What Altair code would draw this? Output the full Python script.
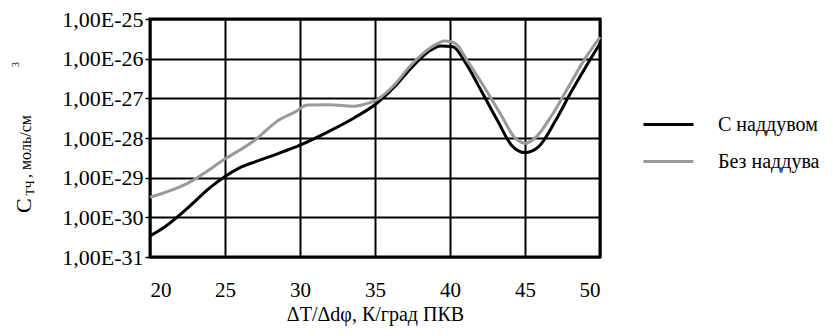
import altair as alt
import pandas as pd

# Series "С наддувом" (black)
x_boost = [20, 21, 22.5, 24, 25, 26, 27, 28.5, 30, 31.9, 33.6, 35.1, 36.3, 37.4, 38.55,
           39.4, 40.2, 41, 42.1, 43.2, 44.1, 45, 45.9, 47, 48.1, 49, 50]
y_boost = [3.4e-31, 5.8e-31, 1.7e-30, 5.6e-30, 1.07e-29, 1.8e-29, 2.5e-29, 4.0e-29, 6.6e-29,
           1.45e-28, 3.2e-28, 7.4e-28, 1.95e-27, 5.75e-27, 1.5e-26,
           2.1e-26, 2.0e-26, 8.3e-27, 1.5e-27, 2.6e-28, 6.6e-29, 4.3e-29, 6.0e-29, 2.6e-28,
           1.5e-27, 5.75e-27, 2.4e-26]

# Series "Без наддува" (grey)
x_noboost = [20, 22.5, 25, 27, 28.5, 29.7, 30.5, 32, 33.5, 34.3, 35.1, 36.3, 37.4, 38.8,
             39.67, 40.33, 41.2, 42.33, 43.4, 44.33, 45, 45.67, 46.8, 47.9, 49, 50]
y_noboost = [3.2e-30, 7.2e-30, 2.95e-29, 8.9e-29, 2.7e-28, 4.6e-28, 6.8e-28, 6.9e-28, 6.3e-28,
             7.1e-28, 9.1e-28, 2.2e-27, 6.9e-27, 2.0e-26,
             2.8e-26, 2.45e-26, 8.3e-27, 1.8e-27, 3.8e-28, 1.02e-28, 7.4e-29, 1.0e-28, 3.8e-28,
             1.95e-27, 1.0e-26, 3.5e-26]

series_names = ["С наддувом", "Без наддува"]
series_colors = ["#000000", "#9a9a9a"]

x_ticks = [20, 25, 30, 35, 40, 45, 50]
y_ticks = [1e-31, 1e-30, 1e-29, 1e-28, 1e-27, 1e-26, 1e-25]

x_title = "ΔT/Δdφ, К/град ПКВ"

df = pd.concat([
    pd.DataFrame({"x": x_boost, "v": y_boost, "s": series_names[0]}),
    pd.DataFrame({"x": x_noboost, "v": y_noboost, "s": series_names[1]}),
])

FONT = "Liberation Serif, Times New Roman, serif"

lines = alt.Chart(df).mark_line(strokeWidth=3, interpolate="monotone").encode(
    x=alt.X("x:Q", scale=alt.Scale(domain=[20, 50], nice=False),
            axis=alt.Axis(values=x_ticks, title=x_title, ticks=False, tickSize=0, domain=False,
                          labelPadding=22, titlePadding=4, labelFontSize=21)),
    y=alt.Y("v:Q", scale=alt.Scale(type="log", domain=[1e-31, 1e-25], nice=False),
            axis=alt.Axis(values=y_ticks, title=None, domain=False, tickSize=5,
                          tickColor="black", tickWidth=1.5, labelPadding=2, labelFontSize=22,
                          labelExpr="'1,00E-' + round(-log(datum.value) / LN10)")),
    color=alt.Color("s:N", scale=alt.Scale(domain=series_names, range=series_colors),
                    sort=series_names,
                    legend=alt.Legend(title=None, orient="none", legendX=492, legendY=79,
                                      symbolType="stroke", symbolSize=2500,
                                      symbolStrokeWidth=3, labelOffset=23,
                                      labelFont=FONT, labelFontSize=20, labelColor="black",
                                      rowPadding=-23)),
)

def ttl(text, x, y, size):
    return alt.Chart(pd.DataFrame({"t": [text]})).mark_text(
        angle=270, align="left", baseline="alphabetic", font=FONT, fontSize=size,
        color="black").encode(text="t:N", x=alt.value(x), y=alt.value(y))

title_parts = [
    ttl("C", -119, 194, 22),
    ttl("ТЧ", -116.5, 176.5, 12),
    ttl(", моль/см", -119.5, 159, 16),
    ttl("3", -131.5, 48, 10),
]

chart = alt.layer(lines, *title_parts).properties(
    width=450, height=238,
    autosize=alt.AutoSizeParams(type="none"),
    padding={"left": 150, "top": 19, "right": 233, "bottom": 79},
).configure_view(stroke="black", strokeWidth=3).configure_axis(
    gridColor="black", gridWidth=2, gridOpacity=1,
    labelFont=FONT, labelColor="black",
    titleFont=FONT, titleFontSize=20, titleFontWeight="normal", titleColor="black",
)

chart.save("out.html", embed_options={"renderer": "svg", "actions": False})
